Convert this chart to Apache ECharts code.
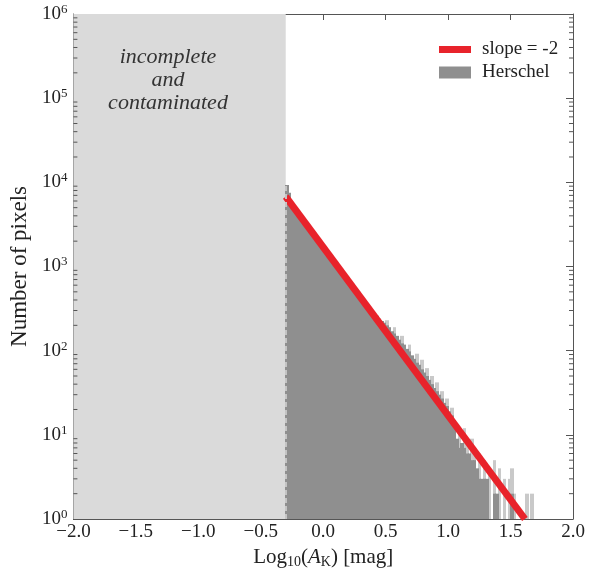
<!DOCTYPE html>
<html>
<head>
<meta charset="utf-8">
<script src="https://cdn.jsdelivr.net/npm/echarts@6/dist/echarts.min.js"></script>
<style>
html,body{margin:0;padding:0;background:#fff;}
#chart{width:589px;height:577px;}
</style>
</head>
<body>
<div id="chart"></div>
<script>
// ---- data ----
var X_TICKS = [-2.0, -1.5, -1.0, -0.5, 0.0, 0.5, 1.0, 1.5, 2.0];
var Y_DECADES = [1, 10, 100, 1000, 10000, 100000, 1000000];
var CUTOFF = -0.3;          // log10(A_K) completeness limit
var BIN_START = -0.30;
var BIN_W = 0.02;
// Herschel histogram counts (dark bars), one per bin starting at BIN_START
var herschelCounts = [
  9300, 7500, 5600, 4800, 4400, 4100, 3650, 3400, 3050, 2800,
  2580, 2330, 2150, 1940, 1780, 1620, 1490, 1340, 1230, 1130,
  1030, 935, 860, 780, 715, 655, 600, 550, 505, 465,
  425, 390, 360, 330, 305, 280, 260, 240, 225, 215,
  200, 190, 170, 160, 150, 135, 122, 118, 105, 98,
  88, 80, 72, 68, 60, 55, 50, 45, 40, 36,
  33, 30, 27, 24, 22, 19, 17, 15, 9, 7,
  8, 7, 6, 6, 5, 5, 4, 3, 3, 3,
  3, 1, 1, 2, 2, 1, 1, 1, 1, 1,
  2, 1, 1, 1, 1, 1, 1, 1, 1
];
// fine-bin spikes (light bars) rising above the dark histogram
var herschelSpikes = [
  0, 0, 0, 0, 0, 0, 0, 0, 0, 0,
  0, 0, 0, 0, 0, 0, 0, 0, 0, 0,
  0, 0, 0, 0, 0, 0, 0, 0, 0, 0,
  0, 0, 0, 0, 0, 0, 0, 0, 0, 0,
  230, 0, 0, 190, 0, 0, 150, 0, 0, 118,
  0, 0, 92, 0, 78, 0, 62, 0, 50, 0,
  42, 0, 33, 0, 27, 0, 21, 0, 0, 11,
  0, 12, 9, 0, 9, 6, 0, 6, 0, 5,
  0, 4, 0, 5, 0, 4, 0, 3, 0, 3,
  4, 2, 0, 0, 0, 0, 2, 0, 2
];
// slope = -2 reference line (two end points)
var slopeX = [-0.3, 1.615];
var slopeY = [6760, 1];

// ---- build ----
function binData(arr) {
  var out = [];
  for (var i = 0; i < arr.length; i++) out.push([BIN_START + i * BIN_W, arr[i]]);
  return out;
}
var minorVals = [];
for (var d = 0; d < 6; d++) for (var k = 2; k <= 9; k++) minorVals.push([0, k * Math.pow(10, d)]);

function histRender(params, api) {
  var x0 = api.value(0), v = api.value(1);
  if (!(v > 1)) return null;
  var pTop = api.coord([x0, v]);
  var pBot = api.coord([x0 + BIN_W, 1]);
  return {
    type: 'rect',
    shape: {x: Math.floor(pTop[0]), y: pTop[1], width: Math.ceil(pBot[0]) - Math.floor(pTop[0]), height: pBot[1] - pTop[1]},
    style: {fill: api.visual('color')}
  };
}

var SERIF = '"Liberation Serif", "DejaVu Serif", serif';
var TXT = '#222';

function yLabel(v) {
  var e = Math.round(Math.log10(v));
  return '{b|10}{s|' + e + '}';
}
var yRich = {
  b: {fontFamily: SERIF, fontSize: 19, color: TXT},
  s: {fontFamily: SERIF, fontSize: 13, color: TXT, verticalAlign: 'bottom', padding: [0, 0, 9, 0]}
};

var axisLineStyle = {onZero: false, lineStyle: {color: '#555', width: 1}};
var chart = echarts.init(document.getElementById('chart'), null, {renderer: 'canvas'});
chart.setOption({
  backgroundColor: '#fff',
  animation: false,
  grid: {left: 68, right: 16, top: 14, bottom: 58},
  xAxis: [{
    type: 'value', min: -2, max: 2, interval: 0.5,
    axisLine: axisLineStyle,
    axisTick: {inside: true, length: 6, lineStyle: {color: '#555'}},
    splitLine: {show: false},
    axisLabel: {
      fontFamily: SERIF, fontSize: 19, color: TXT, margin: 4,
      formatter: function (v) { return (v < 0 ? '\u2212' : '') + Math.abs(v).toFixed(1); }
    },
    name: '{t|Log}{sub|10}{t|(}{it|A}{sub|K}{t|) [mag]}',
    nameLocation: 'middle', nameGap: 26,
    nameTextStyle: {
      rich: {
        t: {fontFamily: SERIF, fontSize: 21, color: TXT},
        it: {fontFamily: SERIF, fontSize: 21, fontStyle: 'italic', color: TXT},
        sub: {fontFamily: SERIF, fontSize: 14, color: TXT, verticalAlign: 'top', padding: [10, 0, 0, 0]}
      }
    }
  }, {
    type: 'value', min: -2, max: 2, interval: 0.5, position: 'top',
    axisLine: axisLineStyle,
    axisTick: {inside: true, length: 6, lineStyle: {color: '#555'}},
    axisLabel: {show: false}, splitLine: {show: false}
  }],
  yAxis: [{
    type: 'log', logBase: 10, min: 1, max: 1e6,
    axisLine: {show: true, onZero: false, lineStyle: {color: '#555'}},
    axisTick: {inside: true, length: 7, lineStyle: {color: '#555'}},
    splitLine: {show: false},
    axisLabel: {formatter: yLabel, rich: yRich, margin: 6},
    name: 'Number of pixels', nameLocation: 'middle', nameGap: 40,
    nameTextStyle: {fontFamily: SERIF, fontSize: 23, color: TXT}
  }, {
    type: 'log', logBase: 10, min: 1, max: 1e6, position: 'right',
    axisLine: {show: true, onZero: false, lineStyle: {color: '#555'}},
    axisTick: {inside: true, length: 7, lineStyle: {color: '#555'}},
    splitLine: {show: false}, axisLabel: {show: false}
  }],
  legend: [{
    data: [{name: 'slope = -2', icon: 'rect'}],
    left: 434, top: 35, itemWidth: 32, itemHeight: 7, itemGap: 10,
    textStyle: {fontFamily: SERIF, fontSize: 19, color: TXT, padding: [0, 0, 0, 6]}
  }, {
    data: [{name: 'Herschel', icon: 'rect'}],
    left: 434, top: 58, itemWidth: 32, itemHeight: 12,
    textStyle: {fontFamily: SERIF, fontSize: 19, color: TXT, padding: [0, 0, 0, 6]}
  }],
  graphic: [{
    type: 'text', z: 100, x: 168, y: 46,
    style: {
      text: 'incomplete\nand\ncontaminated', fontFamily: SERIF, fontStyle: 'italic',
      fontSize: 22, lineHeight: 23, fill: '#333', align: 'center', verticalAlign: 'top'
    }
  }],
  series: [{
    name: 'region', type: 'line', data: [], z: 0,
    markArea: {
      silent: true,
      itemStyle: {color: '#dadada'},
      data: [[{xAxis: -2}, {xAxis: CUTOFF}]]
    }
  }, {
    name: 'Herschel-spikes', type: 'custom', renderItem: histRender,
    itemStyle: {color: '#c9c9c9'}, data: binData(herschelSpikes), z: 1, silent: true
  }, {
    name: 'Herschel', type: 'custom', renderItem: histRender,
    itemStyle: {color: '#8f8f8f'}, data: binData(herschelCounts), z: 2, silent: true,
    markLine: {
      silent: true, symbol: 'none', label: {show: false},
      lineStyle: {color: '#c4c4c4', type: [5, 3], width: 2},
      data: [[{coord: [CUTOFF, 1]}, {coord: [CUTOFF, herschelCounts[0]]}]]
    }
  }, {
    name: 'slope = -2', type: 'line', z: 3,
    data: slopeX.map(function (x, i) { return [x, slopeY[i]]; }),
    showSymbol: false, symbol: 'none',
    lineStyle: {color: '#e8232b', width: 7}, itemStyle: {color: '#e8232b'},
    clip: true
  }, {
    name: 'minor', type: 'custom', z: 4, silent: true, data: minorVals,
    renderItem: function (params, api) {
      var v = api.value(1);
      var pl = api.coord([-2, v]), pr = api.coord([2, v]);
      var st = {stroke: '#555', lineWidth: 1};
      return {type: 'group', children: [
        {type: 'line', shape: {x1: pl[0], y1: pl[1], x2: pl[0] + 4, y2: pl[1]}, style: st},
        {type: 'line', shape: {x1: pr[0], y1: pr[1], x2: pr[0] - 4, y2: pr[1]}, style: st}
      ]};
    }
  }]
});
</script>
</body>
</html>
